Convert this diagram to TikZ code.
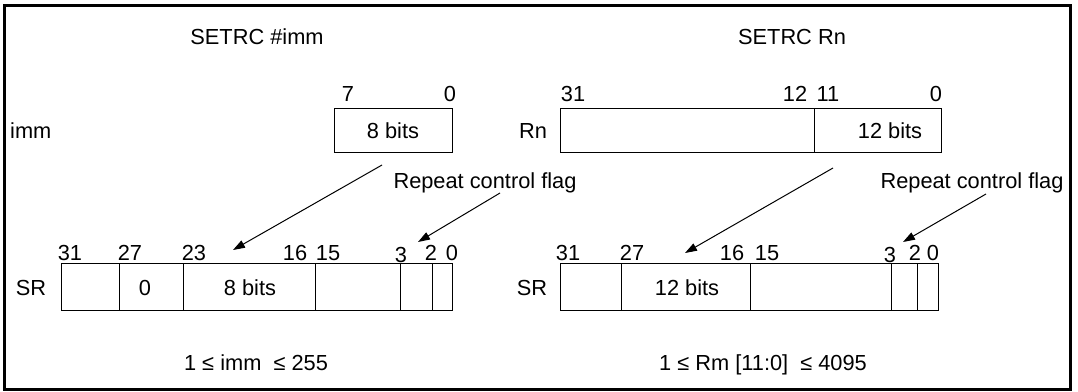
\documentclass[tikz,border=0pt]{standalone}
\usepackage{fontspec}
\setmainfont{Liberation Sans}
\usetikzlibrary{arrows.meta,positioning}

\begin{document}
\begin{tikzpicture}[
      x=1pt, y=-1pt,
      field/.style={rectangle, draw=black, line width=1pt, inner sep=0pt, anchor=north west},
      txt/.style={font=\fontsize{21.8}{26}\selectfont, inner sep=0pt, anchor=base},
      arrow/.style={-{Triangle[length=12pt,width=8pt]}, line width=1pt},
    ]
    \useasboundingbox (0,0) rectangle (1078,391);
    \draw [line width=3pt] (4,5) rectangle (1070,389);
    % SETRC #imm (left half)
    \node [txt] (immtitle) at (257,44) {SETRC \#imm};
    \node [txt, anchor=base west] (immname) at (10,138) {imm};
    \node [field, minimum width=118pt, minimum height=44pt] (immbox) at (334,108) {};
    \node [txt] (immtext) at (393,138) {8 bits};
    \node [txt] (immbit7) at (348,101) {7};
    \node [txt] (immbit0) at (450,101) {0};
    \node [txt] (immflag) at (485,188) {Repeat control flag};
    \node [txt] (srname) at (31,295) {SR};
    \node [field, minimum width=58pt, minimum height=47pt] (srtop) at (61,263) {};
    \node [field, minimum width=64pt, minimum height=47pt] (srzero) at (119,263) {};
    \node [field, minimum width=132pt, minimum height=47pt] (srcount) at (183,263) {};
    \node [field, minimum width=85pt, minimum height=47pt] (srmid) at (315,263) {};
    \node [field, minimum width=32pt, minimum height=47pt] (srflag) at (400,263) {};
    \node [field, minimum width=20pt, minimum height=47pt] (srlow) at (432,263) {};
    \node [txt] (srzerotext) at (145,295) {0};
    \node [txt] (srcounttext) at (250,295) {8 bits};
    \node [txt] (srbit31) at (70,260) {31};
    \node [txt] (srbit27) at (130,260) {27};
    \node [txt] (srbit23) at (194,260) {23};
    \node [txt] (srbit16) at (295,260) {16};
    \node [txt] (srbit15) at (328,260) {15};
    \node [txt] (srbit3) at (401,262) {3};
    \node [txt] (srbit2) at (431,260) {2};
    \node [txt] (srbit0) at (452,260) {0};
    \coordinate (immfrom) at (382,165);
    \coordinate (immto) at (233,250);
    \coordinate (immflagfrom) at (500,193);
    \coordinate (immflagto) at (418,242);
    \draw [arrow] (immfrom) -- (immto);
    \draw [arrow] (immflagfrom) -- (immflagto);
    \node [txt] (immrange) at (256,370) {1 ≤ imm\ \ ≤ 255};
    % SETRC Rn (right half)
    \node [txt] (rntitle) at (792,44) {SETRC Rn};
    \node [txt] (rnname) at (533,138) {Rn};
    \node [field, minimum width=254pt, minimum height=44pt] (rnhigh) at (560,108) {};
    \node [field, minimum width=127pt, minimum height=44pt] (rnlow) at (814,108) {};
    \node [txt] (rntext) at (890,138) {12 bits};
    \node [txt] (rnbit31) at (573,101) {31};
    \node [txt] (rnbit12) at (795,101) {12};
    \node [txt] (rnbit11) at (828,101) {11};
    \node [txt] (rnbit0) at (936,101) {0};
    \node [txt] (rnflag) at (972,188) {Repeat control flag};
    \node [txt] (srrname) at (532,295) {SR};
    \node [field, minimum width=61pt, minimum height=47pt] (srrtop) at (560,263) {};
    \node [field, minimum width=129pt, minimum height=47pt] (srrcount) at (621,263) {};
    \node [field, minimum width=141pt, minimum height=47pt] (srrmid) at (750,263) {};
    \node [field, minimum width=26pt, minimum height=47pt] (srrflag) at (891,263) {};
    \node [field, minimum width=21pt, minimum height=47pt] (srrlow) at (917,263) {};
    \node [txt] (srrcounttext) at (687,295) {12 bits};
    \node [txt] (srrbit31) at (568,260) {31};
    \node [txt] (srrbit27) at (632,260) {27};
    \node [txt] (srrbit16) at (732,260) {16};
    \node [txt] (srrbit15) at (767,260) {15};
    \node [txt] (srrbit3) at (890,262) {3};
    \node [txt] (srrbit2) at (915,260) {2};
    \node [txt] (srrbit0) at (933,260) {0};
    \coordinate (rnfrom) at (833,168);
    \coordinate (rnto) at (685,253);
    \coordinate (rnflagfrom) at (986,194);
    \coordinate (rnflagto) at (903,242);
    \draw [arrow] (rnfrom) -- (rnto);
    \draw [arrow] (rnflagfrom) -- (rnflagto);
    \node [txt] (rnrange) at (763,370) {1 ≤ Rm [11:0]\ \ ≤ 4095};
  \end{tikzpicture}
\end{document}
